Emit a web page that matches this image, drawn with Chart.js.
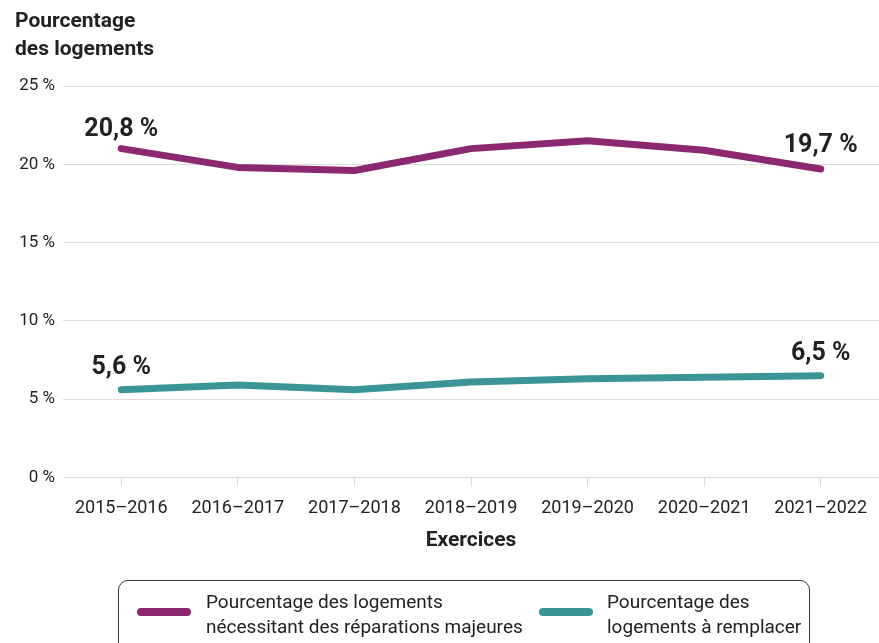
<!DOCTYPE html>
<html>
<head>
<meta charset="utf-8">
<script src="https://cdn.jsdelivr.net/npm/chart.js@4"></script>
<style>
  body { margin: 0; background: #fff; }
  .c-wrap { position: relative; width: 879px; height: 643px; overflow: hidden; font-family: 'Roboto', sans-serif; color: #222; }
  .c-ytitle { position: absolute; left: 15px; top: 6px; font-size: 21px; font-weight: bold; line-height: 28px; }
  .c-legend { position: absolute; left: 118px; top: 580px; width: 692px; height: 80px; border: 1px solid #333; border-radius: 10px; box-sizing: border-box; }
  .c-legend__item { position: absolute; top: 8px; font-size: 19px; line-height: 25px; }
  .c-legend__swatch { position: absolute; width: 54px; height: 8px; border-radius: 4px; }
</style>
</head>
<body>
<div class="c-wrap">
  <canvas id="myChart" width="879" height="643"></canvas>
  <div class="c-ytitle">Pourcentage<br>des logements</div>
  <div class="c-legend">
    <div class="c-legend__swatch" style="left:18px;top:27px;background:#8c2870"></div>
    <div class="c-legend__item" style="left:87px">Pourcentage des logements<br>nécessitant des réparations majeures</div>
    <div class="c-legend__swatch" style="left:420px;top:27px;background:#3b9597"></div>
    <div class="c-legend__item" style="left:488px">Pourcentage des<br>logements à remplacer</div>
  </div>
</div>
<script>
const years = ['2015–2016', '2016–2017', '2017–2018', '2018–2019', '2019–2020', '2020–2021', '2021–2022'];
const majorRepairs = [21.0, 19.8, 19.6, 21.0, 21.5, 20.9, 19.7];
const toReplace = [5.6, 5.9, 5.6, 6.1, 6.3, 6.4, 6.5];
// labels printed on first and last points, as shown on the original
const endLabels = [
  ['20,8 %', '19,7 %'],
  ['5,6 %', '6,5 %'],
];
const yTicks = [0, 5, 10, 15, 20, 25];

const FONT = "'Roboto', sans-serif";

// draws the bold value labels above first/last point of each line
const endLabelPlugin = {
  id: 'endLabels',
  afterDatasetsDraw(chart) {
    const { ctx } = chart;
    const lift = [[19, 23], [22, 22]];
    ctx.save();
    ctx.fillStyle = '#222';
    ctx.font = 'bold 25px ' + FONT;
    ctx.textAlign = 'center';
    ctx.textBaseline = 'middle';
    chart.data.datasets.forEach(function (ds, i) {
      const pts = chart.getDatasetMeta(i).data;
      const first = pts[0];
      const last = pts[pts.length - 1];
      ctx.fillText(endLabels[i][0], first.x, first.y - lift[i][0]);
      ctx.fillText(endLabels[i][1], last.x, last.y - lift[i][1]);
    });
    ctx.restore();
  },
};

const makeChart = function () {
  const data = {
    labels: years,
    datasets: [
      {
        label: 'Pourcentage des logements nécessitant des réparations majeures',
        data: majorRepairs,
        borderColor: '#8c2870',
      },
      {
        label: 'Pourcentage des logements à remplacer',
        data: toReplace,
        borderColor: '#3b9597',
      },
    ],
  };

  const config = {
    type: 'line',
    data,
    options: {
      responsive: false,
      animation: false,
      layout: { padding: { top: 86, right: 0, bottom: 88, left: 0 } },
      elements: {
        line: { borderWidth: 7, tension: 0, borderCapStyle: 'round', borderJoinStyle: 'round' },
        point: { radius: 0, hoverRadius: 0 },
      },
      scales: {
        x: {
          offset: true,
          grid: { drawOnChartArea: false, drawTicks: true, tickLength: 9, color: '#dcdcdc', offset: false },
          border: { display: false },
          ticks: { color: '#222', font: { family: FONT, size: 18 }, padding: 11, maxRotation: 0 },
          title: {
            display: true,
            text: 'Exercices',
            color: '#222',
            font: { family: FONT, size: 21, weight: 'bold', lineHeight: 1 },
            padding: { top: 0, bottom: 4 },
          },
        },
        y: {
          min: 0,
          max: 25,
          afterFit(scale) { scale.width = 63; },
          afterBuildTicks(scale) { scale.ticks = yTicks.map(v => ({ value: v })); },
          grid: { color: '#dcdcdc', drawTicks: false, lineWidth: 1 },
          border: { display: false },
          ticks: {
            color: '#222',
            font: { family: FONT, size: 17 },
            padding: 8,
            callback: v => v + ' %',
          },
        },
      },
      plugins: {
        legend: { display: false },
        tooltip: { enabled: false },
      },
    },
    plugins: [endLabelPlugin],
  };

  new Chart(document.getElementById('myChart'), config);
};

document.addEventListener('DOMContentLoaded', makeChart);
</script>
</body>
</html>
